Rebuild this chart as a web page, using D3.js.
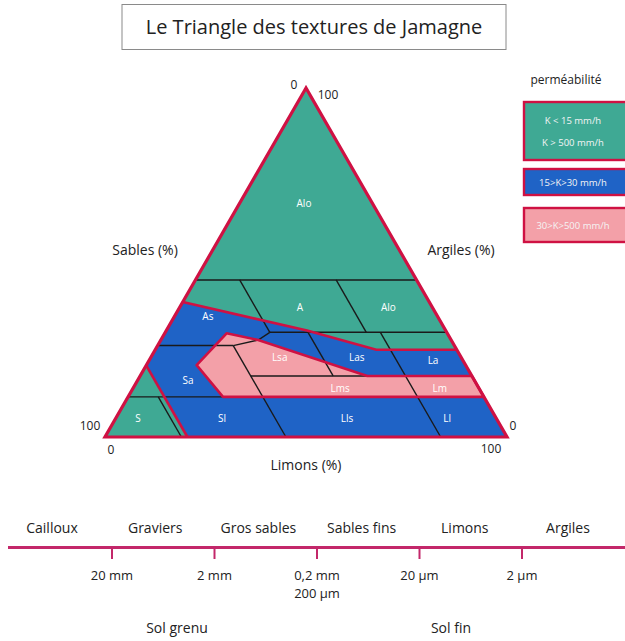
<!DOCTYPE html>
<html>
<head>
<meta charset="utf-8">
<script src="https://cdn.jsdelivr.net/npm/d3@7"></script>
<style>
  html, body { margin: 0; padding: 0; background: #fff; }
  svg { display: block; font-family: "Open Sans", Lato, sans-serif; }
</style>
</head>
<body>
<svg id="chart" width="625" height="641"></svg>
<script>
// ---------- DATA (ternary points as [clay %, silt %]) ----------
const title = "Le Triangle des textures de Jamagne";

// permeability zones (fills)
const zoneLow = [[100, 0], [38.7, 0], [30.5, 35], [25, 55], [25, 75]];           // teal, top
const zoneLowSand = [[20.5, 0], [0, 20.5], [0, 0]];                               // teal, sand corner
const zoneHigh = [[29.7, 15.4], [27.8, 24.2], [17.5, 56.5], [17.5, 82.5],
                  [11.5, 88.5], [11.5, 23.6], [20.6, 12.5]];                      // pink
// red class limits
const redLimitTop = [[38.7, 0], [30.5, 35], [25, 55], [25, 75]];
const redLimitSand = [[20.5, 0], [0, 20.5]];
// black texture limits
const classLines = [
  [[45, 0], [45, 55]],
  [[45, 11], [30, 26]],
  [[45, 35], [30, 50]],
  [[30, 26], [30, 70]],
  [[30, 53.5], [0, 83.5]],
  [[30.5, 35], [17.5, 48]],
  [[26.2, 0], [26.2, 18.8]],
  [[26.2, 18.8], [27.8, 24.2], [30, 26]],
  [[26.2, 18.8], [0, 45]],
  [[17.5, 27.5], [17.5, 82.5]],
  [[11.5, 0], [11.5, 88.5]],
  [[11.5, 7.5], [0, 19]]
];
// class labels: [name, clay, silt]
const classNames = ["Alo", "A", "Alo", "As", "Lsa", "Las", "La", "Sa", "Lms", "Lm", "S", "Sl", "Lls", "Ll"];
const classClay  = [67, 37, 37, 34.4, 22.9, 22.9, 22, 16.3, 14, 14, 5.2, 5.2, 5.2, 5.2];
const classSilt  = [16, 30, 52, 8.4, 32, 51.2, 70.6, 12.5, 51.5, 76.3, 5.6, 26.5, 57.6, 82.5];

// legend
const legendTitle = "perméabilité";
const legendLabels = [["K < 15 mm/h", "K > 500 mm/h"], ["15>K>30 mm/h"], ["30>K>500 mm/h"]];

// particle size scale
const sizeClasses = ["Cailloux", "Graviers", "Gros sables", "Sables fins", "Limons", "Argiles"];
const sizeTicks = ["20 mm", "2 mm", "0,2 mm", "20 µm", "2 µm"];
const sizeTickExtra = ["", "", "200 µm", "", ""];
const soilGroups = ["Sol grenu", "Sol fin"];

// ---------- STYLE ----------
const TEAL = "#3fa994", BLUE = "#1f63c6", PINK = "#f3a0a8", RED = "#cf1143", INK = "#222";

const svg = d3.select("#chart");

// scales for the ternary plot
const xS = d3.scaleLinear().domain([0, 100]).range([105, 507]);
const yS = d3.scaleLinear().domain([0, 100]).range([437, 88]);
const proj = ([c, l]) => [xS(l + c / 2), yS(c)];
const line = d3.line().x(d => proj(d)[0]).y(d => proj(d)[1]);
const closed = pts => line(pts) + "Z";

// title
svg.append("rect").attr("x", 122).attr("y", 4.5).attr("width", 384).attr("height", 45)
  .attr("fill", "#fff").attr("stroke", "#8a8a8a").attr("stroke-width", 1);
svg.append("text").attr("x", 314).attr("y", 34).attr("text-anchor", "middle")
  .attr("font-size", 20).attr("fill", INK).text(title);

// triangle fills
const tri = [[100, 0], [0, 0], [0, 100]];
svg.append("path").attr("d", closed(tri)).attr("fill", BLUE);
svg.append("path").attr("d", closed(zoneLow)).attr("fill", TEAL);
svg.append("path").attr("d", closed(zoneLowSand)).attr("fill", TEAL);
svg.append("path").attr("d", closed(zoneHigh)).attr("fill", PINK);

// black lines
svg.append("g").selectAll("path").data(classLines).join("path")
  .attr("d", line).attr("fill", "none").attr("stroke", "#1a1a1a").attr("stroke-width", 1.4);

// red limits
[redLimitTop, redLimitSand].forEach(p => svg.append("path").attr("d", line(p))
  .attr("fill", "none").attr("stroke", RED).attr("stroke-width", 2.6));
svg.append("path").attr("d", closed(zoneHigh)).attr("fill", "none")
  .attr("stroke", RED).attr("stroke-width", 2.6).attr("stroke-linejoin", "round");
svg.append("path").attr("d", closed(tri)).attr("fill", "none")
  .attr("stroke", RED).attr("stroke-width", 3.2).attr("stroke-linejoin", "miter");

// class labels
svg.append("g").selectAll("text").data(classNames).join("text")
  .attr("x", (d, i) => proj([classClay[i], classSilt[i]])[0])
  .attr("y", (d, i) => proj([classClay[i], classSilt[i]])[1] + 3.5)
  .attr("text-anchor", "middle").attr("font-size", 10).attr("fill", "#fff")
  .text(d => d);

// axis labels and ends
const axisText = (x, y, t, size, anchor) => svg.append("text").attr("x", x).attr("y", y)
  .attr("text-anchor", anchor || "middle").attr("font-size", size).attr("fill", INK).text(t);
axisText(xS(50) - 12, yS(100) + 1, "0", 12);
axisText(xS(50) + 22, yS(100) + 11, "100", 12);
axisText(145, 255, "Sables (%)", 14);
axisText(461, 255, "Argiles (%)", 14);
axisText(xS(0) - 15, yS(0) - 7, "100", 12);
axisText(xS(0) + 6, yS(0) + 17, "0", 12);
axisText(xS(100) + 6, yS(0) - 7, "0", 12);
axisText(xS(100) - 16, yS(0) + 16, "100", 12);
axisText(xS(50), yS(0) + 33, "Limons (%)", 14);

// legend
axisText(566, 84, legendTitle, 12);
const legBoxes = [{ y: 102, h: 58, c: TEAL }, { y: 169, h: 26, c: BLUE }, { y: 208, h: 34, c: PINK }];
legBoxes.forEach((b, i) => {
  svg.append("rect").attr("x", 524).attr("y", b.y).attr("width", 104).attr("height", b.h)
    .attr("fill", b.c).attr("stroke", RED).attr("stroke-width", 2.4);
  const lines = legendLabels[i];
  lines.forEach((t, j) => {
    const cy = b.y + b.h / 2 + (j - (lines.length - 1) / 2) * 22;
    svg.append("text").attr("x", 573).attr("y", cy + 3.5).attr("text-anchor", "middle")
      .attr("font-size", 9.5).attr("fill", "#f4f4f4").text(t);
  });
});

// particle size scale
const catX = d3.scaleLinear().domain([0, sizeClasses.length - 1]).range([52, 568]);
const tickX = d3.scaleLinear().domain([0, sizeTicks.length - 1]).range([112, 522]);
const groupX = d3.scaleLinear().domain([0, 1]).range([177, 451]);
const LINE_C = "#c3286a";
svg.append("g").selectAll("text").data(sizeClasses).join("text")
  .attr("x", (d, i) => catX(i)).attr("y", 533).attr("text-anchor", "middle")
  .attr("font-size", 14).attr("fill", INK).text(d => d);
svg.append("line").attr("x1", 8).attr("x2", 625).attr("y1", 547.5).attr("y2", 547.5)
  .attr("stroke", LINE_C).attr("stroke-width", 3);
svg.append("g").selectAll("line").data(sizeTicks).join("line")
  .attr("x1", (d, i) => tickX(i)).attr("x2", (d, i) => tickX(i))
  .attr("y1", 547).attr("y2", 559).attr("stroke", LINE_C).attr("stroke-width", 2);
svg.append("g").selectAll("text").data(sizeTicks).join("text")
  .attr("x", (d, i) => tickX(i)).attr("y", 580).attr("text-anchor", "middle")
  .attr("font-size", 13).attr("fill", INK).text(d => d);
svg.append("g").selectAll("text").data(sizeTickExtra).join("text")
  .attr("x", (d, i) => tickX(i)).attr("y", 598).attr("text-anchor", "middle")
  .attr("font-size", 13).attr("fill", INK).text(d => d);
svg.append("g").selectAll("text").data(soilGroups).join("text")
  .attr("x", (d, i) => groupX(i)).attr("y", 633).attr("text-anchor", "middle")
  .attr("font-size", 14).attr("fill", INK).text(d => d);
</script>
</body>
</html>
